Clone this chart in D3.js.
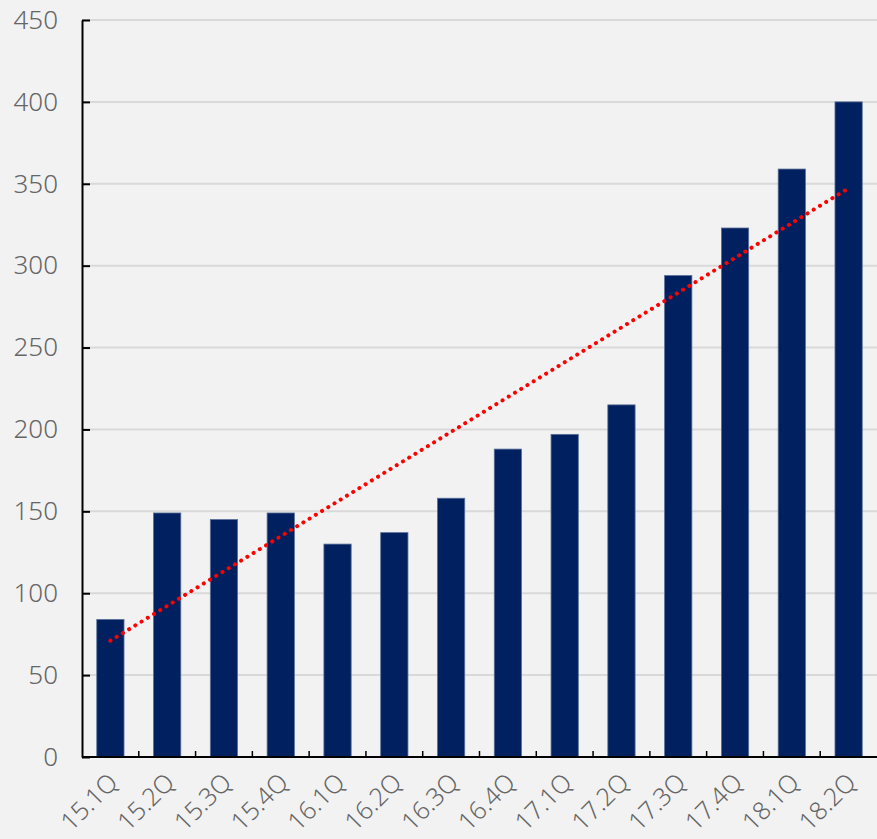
<!DOCTYPE html>
<html><head><meta charset="utf-8">
<script src="https://cdn.jsdelivr.net/npm/d3@7"></script>
<style>
html,body{margin:0;padding:0;background:#f2f2f2;}
svg{display:block;}
</style></head>
<body>
<svg id="chart" width="877" height="839"></svg>
<script>
const categories = ["15.1Q","15.2Q","15.3Q","15.4Q","16.1Q","16.2Q","16.3Q","16.4Q","17.1Q","17.2Q","17.3Q","17.4Q","18.1Q","18.2Q"];
const values = [84,149,145,149,130,137,158,188,197,215,294,323,359,400];
const yTicks = [0,50,100,150,200,250,300,350,400,450];

const W = 877, H = 839;
const m = {left:82, right:0, top:20, bottom:82};
const svg = d3.select("#chart");
svg.append("rect").attr("width",W).attr("height",H).attr("fill","#f2f2f2");

const x = d3.scaleBand().domain(categories).range([m.left, W - m.right]).paddingInner(0.52).paddingOuter(0.26);
const y = d3.scaleLinear().domain([0,450]).range([H - m.bottom, m.top]);

// gridlines
svg.append("g").selectAll("line").data(yTicks.slice(1)).join("line")
  .attr("x1", m.left).attr("x2", W).attr("y1", d=>y(d)).attr("y2", d=>y(d))
  .attr("stroke","#d9d9d9").attr("stroke-width",2);

// bars
svg.append("g").selectAll("rect").data(values).join("rect")
  .attr("x",(d,i)=>x(categories[i])).attr("width",x.bandwidth())
  .attr("y",d=>y(d)).attr("height",d=>y(0)-y(d))
  .attr("fill","#002060").attr("stroke","#5a6f99").attr("stroke-width",0.8);

// linear trendline (least squares from values)
const n = values.length;
const xs = d3.range(1,n+1);
const mx = d3.mean(xs), my = d3.mean(values);
const slope = d3.sum(xs.map((xi,i)=>(xi-mx)*(values[i]-my))) / d3.sum(xs.map(xi=>(xi-mx)*(xi-mx)));
const icpt = my - slope*mx;
const cx = i => x(categories[i]) + x.bandwidth()/2;
svg.append("line")
  .attr("x1", cx(0)).attr("y1", y(icpt + slope*1))
  .attr("x2", cx(n-1)).attr("y2", y(icpt + slope*n))
  .attr("stroke","#ff0000").attr("stroke-width",4)
  .attr("stroke-linecap","round").attr("stroke-dasharray","0.1 7.2");

const FONT = "'Noto Sans', sans-serif";
// y axis
const yAxis = d3.axisLeft(y).tickValues(yTicks).tickSize(-8).tickPadding(24).tickSizeOuter(0);
const gy = svg.append("g").attr("transform",`translate(${m.left},0)`).call(yAxis);
gy.select(".domain").attr("stroke","#000").attr("stroke-width",2);
gy.selectAll(".tick line").attr("stroke","#000").attr("stroke-width",2);
gy.selectAll(".tick text").attr("fill","#666666").attr("font-family",FONT).attr("font-weight",300).attr("font-size",26);

// x axis
const gx = svg.append("g").attr("transform",`translate(0,${H - m.bottom})`);
gx.append("line").attr("x1",m.left).attr("x2",W).attr("stroke","#000").attr("stroke-width",2);
const bounds = categories.map(c => x(c) - x.step()*x.paddingInner()/2).concat([W]);
gx.selectAll("line.t").data(bounds.slice(1,-1)).join("line").attr("class","t")
  .attr("x1",d=>d).attr("x2",d=>d).attr("y1",0).attr("y2",-6)
  .attr("stroke","#000").attr("stroke-width",1.5);
gx.selectAll("text").data(categories).join("text")
  .attr("transform", (d,i)=>`translate(${cx(i)+9},${27}) rotate(-45)`)
  .attr("text-anchor","end")
  .attr("fill","#666666").attr("font-family",FONT).attr("font-weight",300).attr("font-size",25)
  .text(d=>d);
</script>
</body></html>
